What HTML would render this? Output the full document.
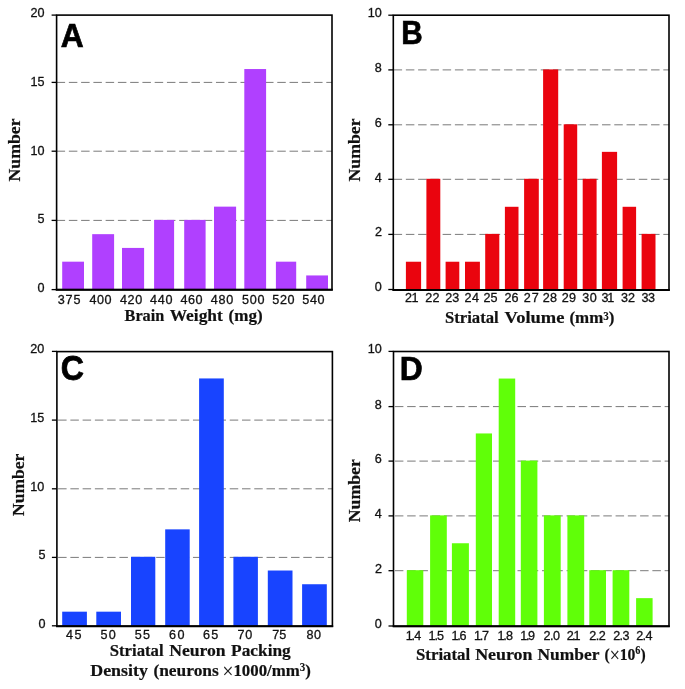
<!DOCTYPE html>
<html lang="en"><head><meta charset="utf-8"><title>Figure: histograms A-D</title>
<style>
html,body{margin:0;padding:0;background:#fff;}
body{width:685px;height:689px;overflow:hidden;}
svg{display:block;}
.tick{font-family:"Liberation Sans", "DejaVu Sans", sans-serif;font-size:12.6px;fill:#111;stroke:#111;stroke-width:0.3px;}
.letter{font-family:"Liberation Sans", "DejaVu Sans", sans-serif;font-size:32.5px;font-weight:bold;fill:#000;stroke:#000;stroke-width:0.7px;stroke-linejoin:miter;}
.title{font-family:"Liberation Serif", "DejaVu Serif", serif;font-size:17.5px;font-weight:bold;fill:#111;stroke:#111;stroke-width:0.2px;}
.sup{font-size:11.5px;font-weight:bold;stroke-width:0.1px;}.reg{font-weight:normal;font-size:20px;stroke-width:0.1px;}
.grid{stroke:#7a7a7a;stroke-width:1;stroke-dasharray:8.5 3.76;fill:none;}
.axis{stroke:#000;stroke-width:1.6;fill:none;}.tk{stroke:#000;stroke-width:1.3;fill:none;}.base{stroke:#000;stroke-width:1.9;fill:none;}
</style></head><body>
<svg width="685" height="689" viewBox="0 0 685 689">
<rect x="0" y="0" width="685" height="689" fill="#ffffff"/>
<g id="panel-A">
<line class="grid" x1="56.6" y1="220.4" x2="332" y2="220.4"/>
<line class="grid" x1="56.6" y1="151.2" x2="332" y2="151.2"/>
<line class="grid" x1="56.6" y1="82.4" x2="332" y2="82.4"/>
<rect x="62.2" y="261.68" width="21.8" height="28.02" fill="#b040ff"/>
<rect x="92.2" y="234.16" width="21.9" height="55.54" fill="#b040ff"/>
<rect x="122" y="247.92" width="22.1" height="41.78" fill="#b040ff"/>
<rect x="154.1" y="219.9" width="20" height="69.8" fill="#b040ff"/>
<rect x="184.2" y="219.9" width="21.4" height="69.8" fill="#b040ff"/>
<rect x="214" y="206.64" width="22.1" height="83.06" fill="#b040ff"/>
<rect x="244.3" y="69.04" width="21.8" height="220.66" fill="#b040ff"/>
<rect x="275.9" y="261.68" width="20.3" height="28.02" fill="#b040ff"/>
<rect x="306.2" y="275.44" width="21.8" height="14.26" fill="#b040ff"/>
<rect class="axis" x="56.6" y="15.1" width="275.4" height="274.6"/>
<line class="base" x1="55.8" y1="289.7" x2="332.8" y2="289.7"/>
<line class="tk" x1="51.6" y1="289.6" x2="56.6" y2="289.6"/>
<text class="tick" x="37.38" y="291.5">0</text>
<line class="tk" x1="51.6" y1="220.4" x2="56.6" y2="220.4"/>
<text class="tick" x="37.38" y="222.9">5</text>
<line class="tk" x1="51.6" y1="151.2" x2="56.6" y2="151.2"/>
<text class="tick" x="30.38" y="154.5">10</text>
<line class="tk" x1="51.6" y1="82.4" x2="56.6" y2="82.4"/>
<text class="tick" x="30.38" y="85.6">15</text>
<line class="tk" x1="51.6" y1="15.1" x2="56.6" y2="15.1"/>
<text class="tick" x="30.38" y="17">20</text>
<text class="tick" x="57.73" y="304.4" style="letter-spacing:0.87px">375</text>
<text class="tick" x="89.58" y="304.4" style="letter-spacing:0.5px">400</text>
<text class="tick" x="119.88" y="304.4" style="letter-spacing:0.7px">420</text>
<text class="tick" x="149.88" y="304.4" style="letter-spacing:0.8px">440</text>
<text class="tick" x="180.57" y="304.4" style="letter-spacing:0.5px">460</text>
<text class="tick" x="210.78" y="304.4" style="letter-spacing:0.7px">480</text>
<text class="tick" x="242.03" y="304.4" style="letter-spacing:0.73px">500</text>
<text class="tick" x="272.32" y="304.4" style="letter-spacing:0.58px">520</text>
<text class="tick" x="302.32" y="304.4" style="letter-spacing:0.62px">540</text>
<text class="letter" transform="translate(60.63 47.22) scale(0.9758 1.0249)" x="0" y="0">A</text>
<text class="title" transform="translate(124.57 320.7) scale(0.9298 1)" x="0" y="0">Brain</text>
<text class="title" transform="translate(169.68 320.7) scale(0.9948 1)" x="0" y="0">Weight</text>
<text class="title" transform="translate(228.59 320.7) scale(0.9755 1)" x="0" y="0">(mg)</text>
<text class="title" transform="translate(20.3 181.45) rotate(-90) scale(1.0126 1)" x="0" y="0">Number</text>
</g>
<g id="panel-B">
<line class="grid" x1="393.6" y1="234.4" x2="669" y2="234.4"/>
<line class="grid" x1="393.6" y1="179.3" x2="669" y2="179.3"/>
<line class="grid" x1="393.6" y1="124.8" x2="669" y2="124.8"/>
<line class="grid" x1="393.6" y1="69.9" x2="669" y2="69.9"/>
<rect x="405.9" y="261.73" width="15.2" height="28.27" fill="#ea040e"/>
<rect x="426.4" y="178.8" width="13.9" height="111.2" fill="#ea040e"/>
<rect x="445.6" y="261.73" width="13.7" height="28.27" fill="#ea040e"/>
<rect x="465" y="261.73" width="14.9" height="28.27" fill="#ea040e"/>
<rect x="485.2" y="233.9" width="14.1" height="56.1" fill="#ea040e"/>
<rect x="504.9" y="206.79" width="13.6" height="83.21" fill="#ea040e"/>
<rect x="524.1" y="178.8" width="14.7" height="111.2" fill="#ea040e"/>
<rect x="543.1" y="69.4" width="15.1" height="220.6" fill="#ea040e"/>
<rect x="563.7" y="124.3" width="13.5" height="165.7" fill="#ea040e"/>
<rect x="582.7" y="178.8" width="13.9" height="111.2" fill="#ea040e"/>
<rect x="601.9" y="151.85" width="15.2" height="138.15" fill="#ea040e"/>
<rect x="622.6" y="206.79" width="13.5" height="83.21" fill="#ea040e"/>
<rect x="641.6" y="233.9" width="13.9" height="56.1" fill="#ea040e"/>
<rect class="axis" x="393.3" y="15.2" width="275.7" height="274.8"/>
<line class="base" x1="392.5" y1="290" x2="669.8" y2="290"/>
<line class="tk" x1="388.3" y1="289.5" x2="393.3" y2="289.5"/>
<text class="tick" x="374.77" y="291.3">0</text>
<line class="tk" x1="388.3" y1="234.4" x2="393.3" y2="234.4"/>
<text class="tick" x="374.9" y="236.3">2</text>
<line class="tk" x1="388.3" y1="179.3" x2="393.3" y2="179.3"/>
<text class="tick" x="374.65" y="182.3">4</text>
<line class="tk" x1="388.3" y1="124.8" x2="393.3" y2="124.8"/>
<text class="tick" x="374.77" y="126.8">6</text>
<line class="tk" x1="388.3" y1="69.9" x2="393.3" y2="69.9"/>
<text class="tick" x="374.77" y="71.9">8</text>
<line class="tk" x1="388.3" y1="15.2" x2="393.3" y2="15.2"/>
<text class="tick" x="367.77" y="17.2">10</text>
<text class="tick" x="405.1" y="301.75" style="letter-spacing:-0.7px">21</text>
<text class="tick" x="425.2" y="301.75" style="letter-spacing:0.2px">22</text>
<text class="tick" x="445.2" y="301.75" style="letter-spacing:0.18px">23</text>
<text class="tick" x="464.4" y="301.75" style="letter-spacing:0.65px">24</text>
<text class="tick" x="483.6" y="301.75" style="letter-spacing:-0.03px">25</text>
<text class="tick" x="504.5" y="301.75" style="letter-spacing:0.08px">26</text>
<text class="tick" x="523.7" y="301.75" style="letter-spacing:1px">27</text>
<text class="tick" x="542.8" y="301.75" style="letter-spacing:0.18px">28</text>
<text class="tick" x="561.8" y="301.75" style="letter-spacing:0.1px">29</text>
<text class="tick" x="582.33" y="301.75" style="letter-spacing:0.45px">30</text>
<text class="tick" x="601.52" y="301.75" style="letter-spacing:-1.23px">31</text>
<text class="tick" x="621.02" y="301.75" style="letter-spacing:0.08px">32</text>
<text class="tick" x="641.42" y="301.75" style="letter-spacing:-0.35px">33</text>
<text class="letter" transform="translate(401.29 43.72) scale(0.9122 1.0249)" x="0" y="0">B</text>
<text class="title" transform="translate(444.97 323.1) scale(0.9535 1)" x="0" y="0">Striatal</text>
<text class="title" transform="translate(504.57 323.1) scale(1.0560 1)" x="0" y="0">Volume</text>
<text class="title" transform="translate(569.4 323.1) scale(0.9680 1)" x="0" y="0">(mm<tspan class="sup" dy="-3.6">3</tspan><tspan dy="3.6">)</tspan></text>
<text class="title" transform="translate(360.3 181.45) rotate(-90) scale(1.0126 1)" x="0" y="0">Number</text>
</g>
<g id="panel-C">
<line class="grid" x1="58.1" y1="557.4" x2="332.4" y2="557.4"/>
<line class="grid" x1="58.1" y1="488.8" x2="332.4" y2="488.8"/>
<line class="grid" x1="58.1" y1="420.1" x2="332.4" y2="420.1"/>
<rect x="62.2" y="611.68" width="24.7" height="14.52" fill="#1844ff"/>
<rect x="96.3" y="611.68" width="24.7" height="14.52" fill="#1844ff"/>
<rect x="131" y="556.8" width="24.3" height="69.4" fill="#1844ff"/>
<rect x="165.2" y="529.36" width="24.5" height="96.84" fill="#1844ff"/>
<rect x="199.1" y="378.44" width="24.7" height="247.76" fill="#1844ff"/>
<rect x="233.4" y="556.8" width="24.5" height="69.4" fill="#1844ff"/>
<rect x="267.8" y="570.52" width="24.7" height="55.68" fill="#1844ff"/>
<rect x="302.1" y="584.24" width="24.7" height="41.96" fill="#1844ff"/>
<rect class="axis" x="56.9" y="351.6" width="275.5" height="274.6"/>
<line class="base" x1="56.1" y1="626.2" x2="333.2" y2="626.2"/>
<line class="tk" x1="51.9" y1="625.8" x2="56.9" y2="625.8"/>
<text class="tick" x="38.48" y="627.6">0</text>
<line class="tk" x1="51.9" y1="557.4" x2="56.9" y2="557.4"/>
<text class="tick" x="38.48" y="559.1">5</text>
<line class="tk" x1="51.9" y1="488.8" x2="56.9" y2="488.8"/>
<text class="tick" x="30.27" y="490.8">10</text>
<line class="tk" x1="51.9" y1="420.1" x2="56.9" y2="420.1"/>
<text class="tick" x="30.27" y="422">15</text>
<line class="tk" x1="51.9" y1="351.4" x2="56.9" y2="351.4"/>
<text class="tick" x="30.27" y="353.2">20</text>
<text class="tick" x="66.08" y="638.7" style="letter-spacing:1.5px">45</text>
<text class="tick" x="100.62" y="638.7" style="letter-spacing:1.05px">50</text>
<text class="tick" x="134.72" y="638.7" style="letter-spacing:1.25px">55</text>
<text class="tick" x="168.9" y="638.7" style="letter-spacing:1.67px">60</text>
<text class="tick" x="203.1" y="638.7" style="letter-spacing:1.18px">65</text>
<text class="tick" x="237.4" y="638.7" style="letter-spacing:0.78px">70</text>
<text class="tick" x="272.2" y="638.7" style="letter-spacing:0.07px">75</text>
<text class="tick" x="306.43" y="638.7" style="letter-spacing:0.65px">80</text>
<text class="letter" transform="translate(60.81 380.12) scale(0.9909 1.0878)" x="0" y="0">C</text>
<text class="title" transform="translate(109.76 656.2) scale(0.9553 1)" x="0" y="0">Striatal</text>
<text class="title" transform="translate(169.15 656.2) scale(1.0085 1)" x="0" y="0">Neuron</text>
<text class="title" transform="translate(231.05 656.2) scale(0.9917 1)" x="0" y="0">Packing</text>
<text class="title" transform="translate(90.24 676.1) scale(1.0232 1)" x="0" y="0">Density</text>
<text class="title" transform="translate(153.38 676.1) scale(0.9958 1)" x="0" y="0">(neurons</text>
<text class="title" transform="translate(222.56 676.1) scale(0.9616 1)" x="0" y="0"><tspan class="reg" dy="2.0">×</tspan><tspan dy="-2.0">1000/mm<tspan class="sup" dy="-5.6">3</tspan><tspan dy="5.6">)</tspan></tspan></text>
<text class="title" transform="translate(23.9 515.9) rotate(-90) scale(1.0012 1)" x="0" y="0">Number</text>
</g>
<g id="panel-D">
<line class="grid" x1="394.9" y1="570.7" x2="669" y2="570.7"/>
<line class="grid" x1="394.9" y1="515.9" x2="669" y2="515.9"/>
<line class="grid" x1="394.9" y1="461.1" x2="669" y2="461.1"/>
<line class="grid" x1="394.9" y1="406.6" x2="669" y2="406.6"/>
<rect x="406.8" y="570.2" width="16.5" height="56.1" fill="#60ff08"/>
<rect x="430.1" y="515.4" width="16.7" height="110.9" fill="#60ff08"/>
<rect x="451.9" y="543.25" width="17" height="83.05" fill="#60ff08"/>
<rect x="475.8" y="433.45" width="16.2" height="192.85" fill="#60ff08"/>
<rect x="498.7" y="378.55" width="16.5" height="247.75" fill="#60ff08"/>
<rect x="520.8" y="460.6" width="16.6" height="165.7" fill="#60ff08"/>
<rect x="543.9" y="515.4" width="16.8" height="110.9" fill="#60ff08"/>
<rect x="567.4" y="515.4" width="16.8" height="110.9" fill="#60ff08"/>
<rect x="589.3" y="570.2" width="16.7" height="56.1" fill="#60ff08"/>
<rect x="612.6" y="570.2" width="16.7" height="56.1" fill="#60ff08"/>
<rect x="636.1" y="598.15" width="16.5" height="28.15" fill="#60ff08"/>
<rect class="axis" x="393.5" y="351.5" width="275.5" height="274.8"/>
<line class="base" x1="392.7" y1="626.3" x2="669.8" y2="626.3"/>
<line class="tk" x1="388.5" y1="626" x2="393.5" y2="626"/>
<text class="tick" x="374.77" y="627.9">0</text>
<line class="tk" x1="388.5" y1="570.7" x2="393.5" y2="570.7"/>
<text class="tick" x="374.9" y="572.7">2</text>
<line class="tk" x1="388.5" y1="515.9" x2="393.5" y2="515.9"/>
<text class="tick" x="374.65" y="517.9">4</text>
<line class="tk" x1="388.5" y1="461.1" x2="393.5" y2="461.1"/>
<text class="tick" x="374.77" y="463">6</text>
<line class="tk" x1="388.5" y1="406.6" x2="393.5" y2="406.6"/>
<text class="tick" x="374.77" y="408.5">8</text>
<line class="tk" x1="388.5" y1="351.4" x2="393.5" y2="351.4"/>
<text class="tick" x="367.77" y="353.3">10</text>
<text class="tick" x="405.85 411.61 414.25" y="639.7">1.4</text>
<text class="tick" x="428.55 434.45 436.98" y="639.7">1.5</text>
<text class="tick" x="451.45 457.21 459.48" y="639.7">1.6</text>
<text class="tick" x="473.95 479.77 482.1" y="639.7">1.7</text>
<text class="tick" x="497.45 503.35 505.88" y="639.7">1.8</text>
<text class="tick" x="520.35 525.92 528" y="639.7">1.9</text>
<text class="tick" x="543.4 549.88 552.98" y="639.7">2.0</text>
<text class="tick" x="566.7 572.03 573.6" y="639.7">2.1</text>
<text class="tick" x="589.2 595.7 598.7" y="639.7">2.2</text>
<text class="tick" x="613.3 619.58 622.48" y="639.7">2.3</text>
<text class="tick" x="636.2 642.39 645.45" y="639.7">2.4</text>
<text class="letter" transform="translate(399.66 379.82) scale(0.9794 1.0205)" x="0" y="0">D</text>
<text class="title" transform="translate(415.96 659.8) scale(0.9625 1)" x="0" y="0">Striatal</text>
<text class="title" transform="translate(475.14 659.8) scale(1.0229 1)" x="0" y="0">Neuron</text>
<text class="title" transform="translate(537.55 659.8) scale(0.9947 1)" x="0" y="0">Number</text>
<text class="title" transform="translate(604.44 659.8) scale(0.8936 1)" x="0" y="0">(<tspan class="reg" dy="2.0">×</tspan><tspan dy="-2.0">10<tspan class="sup" dy="-5.6">6</tspan><tspan dy="5.6">)</tspan></tspan></text>
<text class="title" transform="translate(360 522.25) rotate(-90) scale(1.0126 1)" x="0" y="0">Number</text>
</g>
</svg></body></html>
